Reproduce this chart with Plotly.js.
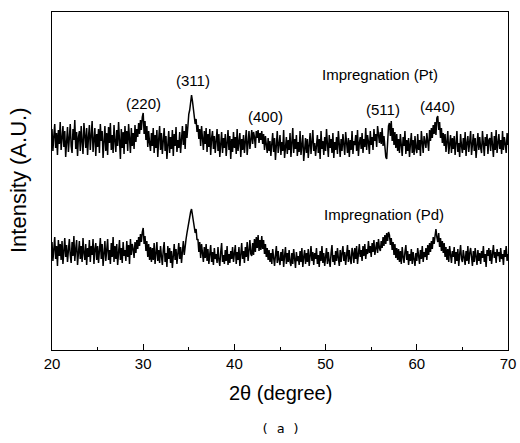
<!DOCTYPE html>
<html>
<head>
<meta charset="utf-8">
<script src="https://cdn.plot.ly/plotly-3.0.1.min.js"></script>
<style>html,body{margin:0;padding:0;background:#fff;}#chart{width:520px;height:443px;}</style>
</head>
<body>
<div id="chart"></div>
<script>
// 2-theta sampling: start, step, count (degrees)
const xStart = 20.0;
const xStep = 0.1;
const nPts = 501;

// Intensity (A.U.), one row per degree (x.0 ... x.9)
const ptIntensity = [
  221,199,214,226,202,217,195,220,206,228, // 20
  200,216,224,203,219,193,212,223,198,218, // 21
  226,204,197,221,210,230,201,218,194,213, // 22
  219,199,224,208,196,227,214,202,222,195, // 23
  213,225,200,218,229,198,211,222,194,216, // 24
  203,221,197,226,209,219,192,206,224,199, // 25
  217,195,223,207,227,200,215,197,225,209, // 26
  198,220,204,228,212,191,221,202,218,196, // 27
  224,206,219,199,226,210,197,222,204,217, // 28
  201,225,208,221,213,227,216,230,220,233, // 29
  237,216,229,210,224,203,219,207,199,217, // 30
  204,222,197,215,202,220,193,211,224,200, // 31
  217,196,210,222,199,214,191,208,219,197, // 32
  213,201,220,194,216,204,223,198,210,202, // 33
  218,197,212,224,205,219,201,226,212,229, // 34
  236,240,248,255,249,240,233,226,231,218, // 35
  225,211,221,204,224,209,200,219,206,222, // 36
  198,216,203,221,195,212,219,201,214,197, // 37
  209,221,199,216,193,208,218,197,212,202, // 38
  216,194,206,220,200,214,191,211,198,218, // 39
  202,213,196,221,199,209,217,193,211,200, // 40
  215,197,208,220,195,206,219,201,212,220, // 41
  206,218,213,202,219,212,220,207,217,210, // 42
  219,206,216,200,214,205,197,212,199,209, // 43
  194,206,217,198,212,190,209,219,197,204, // 44
  215,195,208,199,220,192,203,213,196,210, // 45
  200,217,193,206,222,197,211,201,215,194, // 46
  208,198,219,195,204,215,189,207,212,197, // 47
  211,192,203,217,196,209,220,199,207,194, // 48
  204,215,197,211,191,219,201,209,195,213, // 49
  199,221,206,193,215,202,211,197,217,192, // 50
  208,200,213,196,219,204,193,211,199,216, // 51
  203,195,218,206,197,212,193,210,200,219, // 52
  196,209,205,215,199,220,194,207,213,201, // 53
  217,197,211,203,222,200,215,208,196,219, // 54
  205,213,200,221,209,216,203,224,212,207, // 55
  218,206,222,204,214,198,193,191,213,224, // 56
  227,214,229,209,222,205,218,202,216,199, // 57
  211,197,216,202,194,213,204,219,196,210, // 58
  199,212,193,206,217,197,210,195,214,202, // 59
  197,216,200,210,194,219,205,197,214,206, // 60
  202,217,208,199,220,209,222,212,225,216, // 61
  228,215,232,234,220,228,212,222,207,217, // 62
  204,216,198,211,219,196,208,215,197,212, // 63
  201,214,195,210,219,198,207,193,216,204, // 64
  197,212,200,218,194,207,214,198,210,219, // 65
  195,206,216,199,212,192,210,217,200,213, // 66
  202,197,219,207,194,213,204,216,196,210, // 67
  212,199,218,205,193,214,200,220,197,207, // 68
  216,201,210,196,219,200,213,206,197,217, // 69
  205                                      // 70
];

const pdIntensity = [
  108,89,101,113,91,104,84,110,94,106,   // 20
  90,109,86,100,112,93,105,88,102,111,   // 21
  95,87,108,94,114,89,101,110,85,100,    // 22
  109,91,104,88,112,97,90,106,85,102,    // 23
  93,110,88,104,95,111,86,101,107,90,    // 24
  104,87,98,112,91,106,84,96,109,89,     // 25
  101,111,90,100,86,107,93,113,88,104,   // 26
  91,106,85,97,110,90,102,87,108,94,     // 27
  100,89,109,93,105,86,111,95,106,101,   // 28
  92,108,97,110,101,113,104,116,108,118, // 29
  122,106,114,99,109,93,106,90,103,88,   // 30
  102,90,107,86,97,108,89,100,87,104,    // 31
  94,85,100,108,88,97,83,104,91,102,     // 32
  87,99,82,95,106,90,101,86,96,107,      // 33
  91,103,87,99,109,95,106,111,117,123,   // 34
  129,135,138,141,136,129,123,117,121,110, // 35
  111,98,108,92,106,96,88,103,92,106,    // 36
  89,101,86,96,105,88,98,85,102,91,      // 37
  96,87,103,90,84,98,107,88,95,86,       // 38
  100,89,104,85,96,87,99,91,103,88,      // 39
  94,105,86,98,90,103,84,96,107,91,      // 40
  99,87,103,93,108,89,100,110,96,94,     // 41
  107,95,111,98,113,102,115,99,110,100,  // 42
  114,101,110,96,106,93,102,90,100,88,   // 43
  97,86,101,90,84,95,104,87,99,90,       // 44
  85,98,89,101,83,94,103,86,97,88,       // 45
  100,88,84,97,86,101,91,82,98,89,       // 46
  94,85,99,88,102,83,93,100,86,97,       // 47
  88,101,84,95,104,89,98,85,97,91,       // 48
  102,86,95,83,99,89,104,87,97,84,       // 49
  92,102,86,98,89,83,97,105,88,95,       // 50
  85,99,89,102,92,84,100,88,97,104,      // 51
  89,98,85,95,105,88,100,91,86,102,      // 52
  97,87,102,91,104,86,98,106,93,100,     // 53
  89,104,94,106,91,101,96,109,97,104,    // 54
  93,107,98,110,95,103,108,97,111,102,   // 55
  99,109,102,113,104,115,106,117,109,118, // 56
  115,105,112,100,108,95,106,92,102,90,  // 57
  101,88,99,86,103,93,87,98,105,90,      // 58
  99,85,96,89,101,86,98,91,84,97,        // 59
  89,102,94,86,100,91,104,88,98,93,      // 60
  102,90,105,95,107,98,109,101,113,106,  // 61
  114,121,113,108,117,103,112,99,109,97, // 62
  107,93,103,90,101,88,104,94,87,99,     // 63
  93,103,86,98,89,101,84,96,105,91,      // 64
  88,100,94,85,99,89,104,86,97,102,      // 65
  93,84,99,88,102,94,85,100,89,97,       // 66
  86,99,92,104,88,96,83,100,94,102,      // 67
  89,100,86,96,105,92,98,87,101,94,      // 68
  98,88,102,91,96,85,100,93,104,89,      // 69
  96                                     // 70
];

// Peak labels (hkl) and their positions
const peakLabels = ['(220)', '(311)', '(400)', '(511)', '(440)'];
const peakLabelX = [30.0, 35.5, 43.4, 56.3, 62.3];
const peakLabelY = [247, 270, 234, 241, 244];

// Sample labels
const sampleLabels = ['Impregnation (Pt)', 'Impregnation (Pd)'];
const sampleLabelX = [56.0, 56.4];
const sampleLabelY = [276, 136];

const xTickVals = [20, 30, 40, 50, 60, 70];

const twoTheta = [];
for (let i = 0; i < nPts; i++) twoTheta.push(+(xStart + i * xStep).toFixed(2));

const FONT = 'Liberation Sans, Arial, sans-serif';

const traces = [
  {x: twoTheta, y: ptIntensity, type: 'scatter', mode: 'lines', line: {color: '#000', width: 1.5}, name: 'Pt', hoverinfo: 'skip'},
  {x: twoTheta, y: pdIntensity, type: 'scatter', mode: 'lines', line: {color: '#000', width: 1.5}, name: 'Pd', hoverinfo: 'skip'}
];

const annotations = [];
peakLabels.forEach((t, i) => annotations.push({
  x: peakLabelX[i], y: peakLabelY[i], xref: 'x', yref: 'y', text: t, showarrow: false,
  font: {family: FONT, size: 15, color: '#000'}, xanchor: 'center', yanchor: 'middle'
}));
sampleLabels.forEach((t, i) => annotations.push({
  x: sampleLabelX[i], y: sampleLabelY[i], xref: 'x', yref: 'y', text: t, showarrow: false,
  font: {family: FONT, size: 15, color: '#000'}, xanchor: 'center', yanchor: 'middle'
}));
annotations.push({
  x: 0, y: 0.5, xref: 'paper', yref: 'paper', text: 'Intensity (A.U.)', showarrow: false,
  textangle: -90, xanchor: 'center', yanchor: 'middle', xshift: -34,
  font: {family: FONT, size: 22, color: '#000'}
});
annotations.push({
  x: 0.5, y: 0, xref: 'paper', yref: 'paper', text: '2θ (degree)', showarrow: false,
  xanchor: 'center', yanchor: 'middle', yshift: -43,
  font: {family: FONT, size: 20, color: '#000'}
});
annotations.push({
  x: 0.5, y: 0, xref: 'paper', yref: 'paper', text: '( a )', showarrow: false,
  xanchor: 'center', yanchor: 'middle', yshift: -78,
  font: {family: 'DejaVu Sans Mono, monospace', size: 13, color: '#000'}
});

const layout = {
  width: 520, height: 443,
  margin: {l: 52, r: 12, t: 12, b: 93},
  paper_bgcolor: '#fff', plot_bgcolor: '#fff',
  showlegend: false,
  xaxis: {
    range: [20, 70], tickvals: xTickVals, ticks: 'inside', ticklen: 6, tickwidth: 1, tickcolor: '#000',
    minor: {dtick: 5, ticks: 'inside', ticklen: 3, tickcolor: '#000', showgrid: false},
    showline: true, linecolor: '#000', linewidth: 1.2, mirror: true, showgrid: false, zeroline: false,
    tickfont: {family: FONT, size: 15, color: '#000'}
  },
  yaxis: {
    range: [0, 338], showticklabels: false, ticks: '', showline: true, linecolor: '#000', linewidth: 1.2,
    mirror: true, showgrid: false, zeroline: false
  },
  annotations: annotations
};

Plotly.newPlot('chart', traces, layout, {displayModeBar: false, staticPlot: true});
</script>
</body>
</html>
